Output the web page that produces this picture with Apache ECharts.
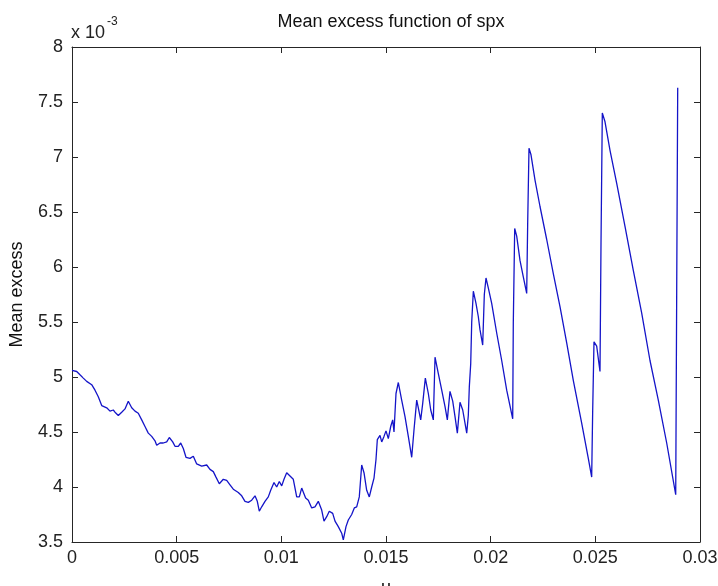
<!DOCTYPE html>
<html>
<head>
<meta charset="utf-8">
<script src="https://cdn.jsdelivr.net/npm/echarts@6/dist/echarts.min.js"></script>
<style>
  html, body { margin: 0; padding: 0; background: #fff; }
  #chart { width: 718px; height: 586px; }
</style>
</head>
<body>
<div id="chart"></div>
<script>
// threshold u
const uValues = [
  0, 0.000225, 0.000382, 0.000540, 0.000702, 0.000941, 0.001099, 0.001256, 0.001419, 0.001658,
  0.001815, 0.001973, 0.002054, 0.002212, 0.002374, 0.002532, 0.002689, 0.002852, 0.003010, 0.003167,
  0.003330, 0.003487, 0.003645, 0.003807, 0.003965, 0.004046, 0.004204, 0.004361, 0.004524, 0.004648,
  0.004811, 0.004920, 0.005078, 0.005193, 0.005317, 0.005446, 0.005637, 0.005795, 0.005957, 0.006196,
  0.006435, 0.006592, 0.006750, 0.006879, 0.007037, 0.007228, 0.007390, 0.007548, 0.007705, 0.007944,
  0.008107, 0.008264, 0.008422, 0.008584, 0.008742, 0.008852, 0.008947, 0.009062, 0.009220, 0.009377,
  0.009492, 0.009650, 0.009779, 0.009903, 0.010018, 0.010127, 0.010256, 0.010414, 0.010572, 0.010734,
  0.010859, 0.010973, 0.011060, 0.011160, 0.011289, 0.011451, 0.011608, 0.011766, 0.011928, 0.012038,
  0.012167, 0.012291, 0.012454, 0.012564, 0.012721, 0.012884, 0.012960, 0.013089, 0.013199, 0.013361,
  0.013486, 0.013600, 0.013724, 0.013839, 0.013949, 0.014078, 0.014202, 0.014317, 0.014427, 0.014522,
  0.014585, 0.014713, 0.014795, 0.014904, 0.015000, 0.015111, 0.015225, 0.015320, 0.015382, 0.015478,
  0.015589, 0.015749, 0.015908, 0.016066, 0.016228, 0.016338, 0.016467, 0.016544, 0.016658, 0.016754,
  0.016879, 0.017022, 0.017137, 0.017261, 0.017342, 0.017500, 0.017662, 0.017820, 0.017930, 0.018057,
  0.018187, 0.018297, 0.018408, 0.018535, 0.018665, 0.018774, 0.018856, 0.018932, 0.018980, 0.019047,
  0.019095, 0.019172, 0.019299, 0.019409, 0.019490, 0.019619, 0.019697, 0.019777, 0.019887, 0.020049,
  0.020288, 0.020527, 0.020766, 0.021053, 0.021081, 0.021148, 0.021244, 0.021401, 0.021559, 0.021721,
  0.021769, 0.021831, 0.021927, 0.022118, 0.022357, 0.022677, 0.022992, 0.023312, 0.023632, 0.023947,
  0.024348, 0.024664, 0.024826, 0.024874, 0.024936, 0.025065, 0.025223, 0.025271, 0.025333, 0.025462,
  0.025701, 0.026021, 0.026417, 0.026814, 0.027215, 0.027611, 0.028008, 0.028409, 0.028840, 0.028887,
  0.028935
];

// mean excess, in units of 1e-3
const meanExcess = [
  5.06, 5.05, 5.02, 4.99, 4.96, 4.93, 4.88, 4.82, 4.74, 4.72,
  4.69, 4.70, 4.68, 4.65, 4.68, 4.71, 4.78, 4.72, 4.69, 4.67,
  4.61, 4.55, 4.49, 4.46, 4.42, 4.38, 4.40, 4.40, 4.41, 4.45,
  4.41, 4.37, 4.37, 4.40, 4.35, 4.27, 4.26, 4.28, 4.21, 4.19,
  4.20, 4.16, 4.14, 4.09, 4.03, 4.07, 4.06, 4.02, 3.98, 3.95,
  3.92, 3.87, 3.86, 3.88, 3.92, 3.87, 3.78, 3.82, 3.87, 3.91,
  3.97, 4.04, 4.00, 4.05, 4.01, 4.07, 4.13, 4.10, 4.07, 3.91,
  3.91, 3.99, 3.99, 3.90, 3.88, 3.81, 3.82, 3.87, 3.79, 3.69,
  3.73, 3.78, 3.76, 3.69, 3.64, 3.58, 3.52, 3.64, 3.70, 3.75,
  3.81, 3.82, 3.91, 4.20, 4.13, 3.97, 3.91, 4.00, 4.08, 4.25,
  4.43, 4.47, 4.41, 4.46, 4.51, 4.44, 4.55, 4.61, 4.50, 4.85,
  4.95, 4.79, 4.64, 4.46, 4.27, 4.52, 4.79, 4.72, 4.61, 4.76,
  4.99, 4.85, 4.70, 4.61, 5.18, 5.03, 4.88, 4.73, 4.61, 4.87,
  4.78, 4.64, 4.49, 4.77, 4.70, 4.58, 4.49, 4.65, 4.91, 5.12,
  5.50, 5.78, 5.67, 5.55, 5.43, 5.29, 5.75, 5.90, 5.81, 5.67,
  5.40, 5.15, 4.88, 4.62, 5.49, 6.35, 6.28, 6.06, 5.91, 5.76,
  6.41, 7.08, 7.02, 6.79, 6.55, 6.25, 5.94, 5.64, 5.31, 4.97,
  4.58, 4.26, 4.09, 4.70, 5.32, 5.28, 5.05, 6.22, 7.40, 7.32,
  7.06, 6.76, 6.37, 5.97, 5.58, 5.15, 4.79, 4.40, 3.93, 5.78,
  7.63
];

const xTicks = [0, 0.005, 0.01, 0.015, 0.02, 0.025, 0.03];
const yTicks = [3.5, 4, 4.5, 5, 5.5, 6, 6.5, 7, 7.5, 8];

const font = '"Liberation Sans", Arial, sans-serif';
const axisColor = '#262626';

const chart = echarts.init(document.getElementById('chart'));

const baseX = {
  type: 'value',
  min: xTicks[0],
  max: xTicks[xTicks.length - 1],
  interval: 0.005,
  splitLine: { show: false },
  axisLine: { show: true, onZero: false, lineStyle: { color: axisColor, width: 1 } },
  axisTick: { show: true, inside: true, length: 6, lineStyle: { color: axisColor } }
};
const baseY = {
  type: 'value',
  min: yTicks[0],
  max: yTicks[yTicks.length - 1],
  interval: 0.5,
  splitLine: { show: false },
  axisLine: { show: true, onZero: false, lineStyle: { color: axisColor, width: 1 } },
  axisTick: { show: true, inside: true, length: 6, lineStyle: { color: axisColor } }
};

const option = {
  animation: false,
  backgroundColor: '#fff',
  title: {
    text: 'Mean excess function of spx',
    left: 386,
    textAlign: 'center',
    top: 8,
    textStyle: { fontFamily: font, fontSize: 18, fontWeight: 'normal', color: '#111' }
  },
  grid: { left: 72, right: 18, top: 47, bottom: 44, outerBoundsMode: 'none', containLabel: false },
  xAxis: [
    Object.assign({}, baseX, {
      position: 'bottom',
      name: 'u',
      nameLocation: 'middle',
      nameGap: 37,
      nameTextStyle: { fontFamily: font, fontSize: 18, color: '#111' },
      axisLabel: { show: true, margin: 7, fontFamily: font, fontSize: 18, color: '#222' }
    }),
    Object.assign({}, baseX, { position: 'top', axisLabel: { show: false } })
  ],
  yAxis: [
    Object.assign({}, baseY, {
      position: 'left',
      name: 'Mean excess',
      nameLocation: 'middle',
      nameRotate: 90,
      nameGap: 46,
      nameTextStyle: { fontFamily: font, fontSize: 18, color: '#111' },
      axisLabel: { show: true, margin: 9, fontFamily: font, fontSize: 18, color: '#222' }
    }),
    Object.assign({}, baseY, { position: 'right', axisLabel: { show: false } })
  ],
  graphic: [
    { type: 'text', left: 71, top: 24, style: { text: 'x 10', font: '18px ' + font, fill: '#222' } },
    { type: 'text', left: 107, top: 16, style: { text: '-3', font: '12px ' + font, fill: '#222' } }
  ],
  series: [{
    type: 'line',
    xAxisIndex: 0,
    yAxisIndex: 0,
    data: uValues.map((u, i) => [u, meanExcess[i]]),
    showSymbol: false,
    lineStyle: { color: '#1414c8', width: 1.3 },
    clip: true
  }]
};

chart.setOption(option);
</script>
</body>
</html>
